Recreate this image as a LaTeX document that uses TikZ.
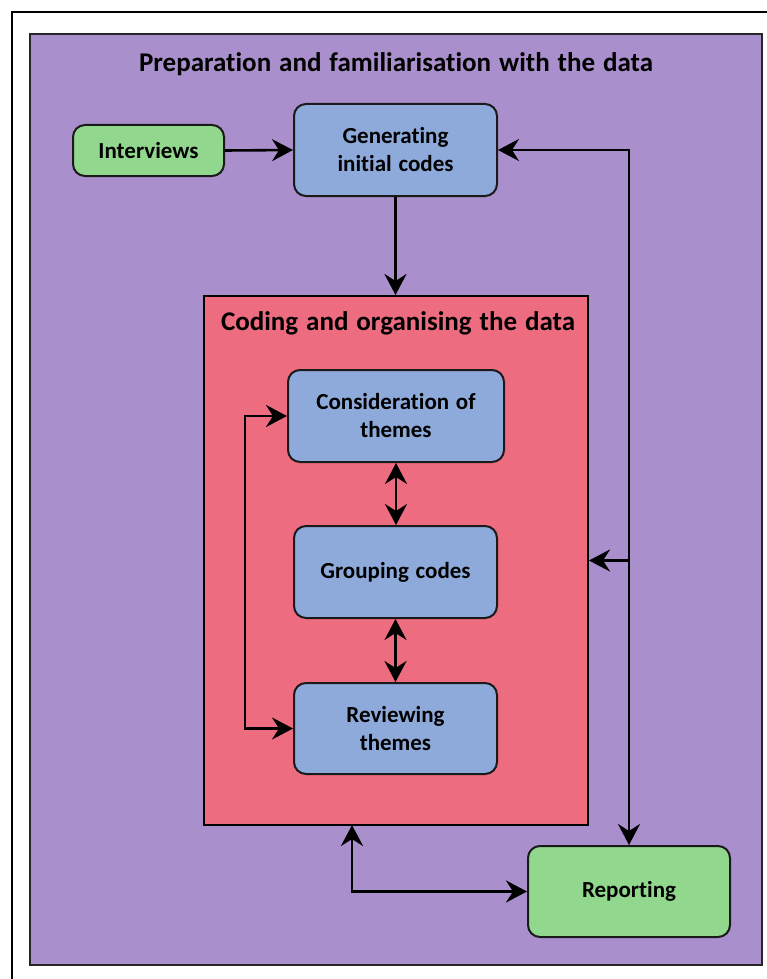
\documentclass[tikz,border=0pt]{standalone}
\usepackage{fontspec}
\setmainfont{Carlito}[Ligatures=NoCommon, WordSpace=1.3]
\usetikzlibrary{arrows.meta,calc}

\definecolor{prepviolet}{HTML}{A98FCB}
\definecolor{codingred}{HTML}{EE6C7F}
\definecolor{stepblue}{HTML}{8EAADB}
\definecolor{endgreen}{HTML}{92D78E}
\definecolor{edge}{HTML}{1A1A1A}

\tikzset{
  box/.style={rectangle, rounded corners=12pt, draw=edge, line width=2pt,
    inner sep=0pt, align=center, text=black,
    font=\fontsize{23}{28}\selectfont\bfseries},
  bluebox/.style={box, fill=stepblue},
  greenbox/.style={box, fill=endgreen},
  tip/.tip={Stealth[length=21pt,width=22pt,inset=7pt]},
  arr/.style={line width=2.6pt, -tip},
  dbl/.style={line width=2.6pt, tip-tip},
  heading/.style={font=\fontsize{27}{32}\selectfont\bfseries, text=black, inner sep=0pt}
}

\begin{document}
\begin{tikzpicture}[x=1pt,y=-1pt]
  \useasboundingbox (0,0) rectangle (767,979);
  \clip (0,0) rectangle (767,979);

  % page frame
  \draw[line width=2pt] (12,12) rectangle (820,1020);

  % outer stage: preparation
  \node[rectangle, draw=black!85, line width=1.6pt, fill=prepviolet,
        minimum width=732pt, minimum height=931pt, inner sep=0pt]
        (prep) at (396,499.5) {};
  \node[heading] (preptitle) at (396,64.5) {Preparation and familiarisation with the data};

  % inner stage: coding
  \node[rectangle, draw=black, line width=2pt, fill=codingred,
        minimum width=384pt, minimum height=529pt, inner sep=0pt]
        (coding) at (396,560.5) {};
  \node[heading] (codingtitle) at (398,323.5) {Coding and organising the data};

  % steps
  \node[greenbox, minimum width=151pt, minimum height=51pt] (interviews) at (148.5,150.5) {Interviews};
  \node[bluebox, minimum width=203pt, minimum height=92pt] (gen) at (395.5,150) {Generating\\initial codes};
  \node[bluebox, minimum width=216pt, minimum height=92pt] (cons) at (396,416) {Consideration of\\themes};
  \node[bluebox, minimum width=203pt, minimum height=92pt] (group) at (395.5,572) {Grouping codes};
  \node[bluebox, minimum width=203pt, minimum height=91pt] (review) at (395.5,728.5) {Reviewing\\themes};
  \node[greenbox, minimum width=202pt, minimum height=91pt] (report) at (629,891.5) {Reporting};

  \coordinate (cb) at (352,825);

  % connectors
  \draw[arr] (interviews.east) -- (gen.west);
  \draw[arr] (gen.south) -- (gen.south |- coding.north);
  \draw[dbl] (cons.south) -- (cons.south |- group.north);
  \draw[dbl] (group.south) -- (review.north);
  \draw[dbl] (cons.west) -- ++(-42,0) |- (review.west);
  \draw[dbl] (gen.east) -| (report.north);
  \draw[arr] (report.north |- coding.east) -- (coding.east);
  \draw[dbl] (cb) |- (report.west);
\end{tikzpicture}
\end{document}
